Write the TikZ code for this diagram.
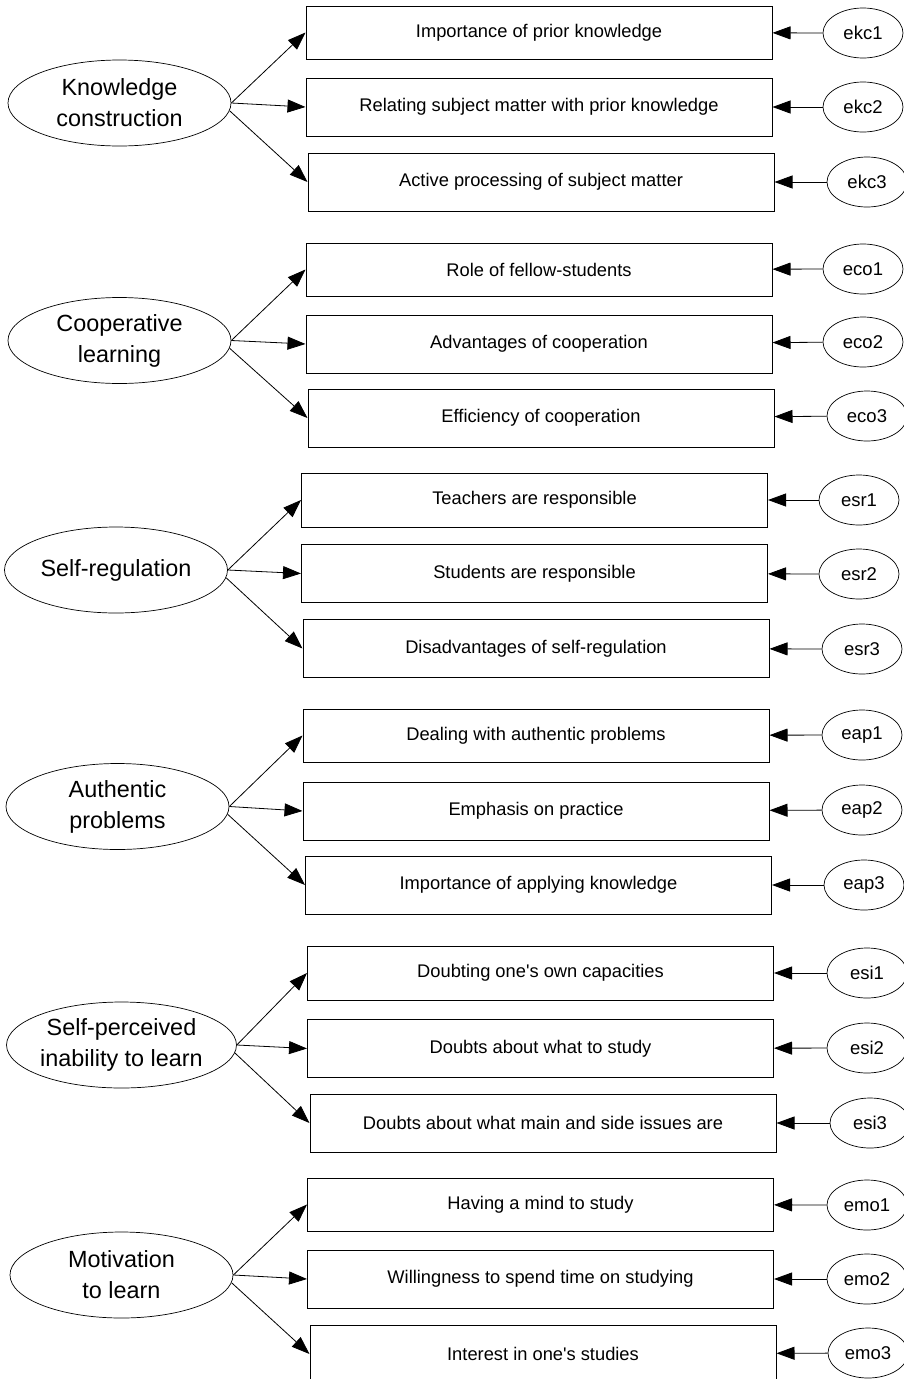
\documentclass[tikz,border=0pt]{standalone}
\usepackage{fontspec}
\setmainfont{Liberation Sans}
\usetikzlibrary{shapes.geometric,arrows.meta}

\begin{document}
\begin{tikzpicture}[x=1pt,y=-1pt,
    factor/.style ={ellipse, draw, line width=0.7pt, inner sep=0pt, minimum width=223pt, minimum height=86pt, align=center, font=\fontsize{23.4}{31}\selectfont},
    indicator/.style ={rectangle, draw, line width=1pt, inner sep=0pt, minimum width=466pt, minimum height=58pt, font=\fontsize{18.3}{22}\selectfont},
    residual/.style ={ellipse, draw, line width=0.7pt, inner sep=0pt, minimum width=80pt, minimum height=50pt, font=\fontsize{18.5}{22}\selectfont},
    load/.style ={-{Triangle[length=18pt,width=13pt]}, line width=0.8pt}]
   \useasboundingbox (0,0) rectangle (904,1379);
   % knowledge construction
   \node[factor] (kc) at (119.5,103) {Knowledge\\construction};
   \node[indicator, minimum height=53pt] (kc1) at (539,32.5) {Importance of prior knowledge};
   \node[indicator] (kc2) at (539,107) {Relating subject matter with prior knowledge};
   \node[indicator] (kc3) at (541,182) {Active processing of subject matter};
   \node[residual] (ekc1) at (863,33) {ekc1};
   \node[residual] (ekc2) at (863,107) {ekc2};
   \node[residual] (ekc3) at (867,182) {ekc3};
   \draw[load] (kc.east) to (kc1.west);
   \draw[load] (kc.east) to (kc2.west);
   \draw[load] (kc.-4) to (kc3.west);
   \draw[load] (ekc1) to (kc1);
   \draw[load] (ekc2) to (kc2);
   \draw[load] (ekc3) to (kc3);
   % cooperative learning
   \node[factor] (co) at (119.5,340.5) {Cooperative\\learning};
   \node[indicator, minimum height=53pt] (co1) at (539,269.5) {Role of fellow-students};
   \node[indicator] (co2) at (539,344) {Advantages of cooperation};
   \node[indicator] (co3) at (541,418) {Efficiency of cooperation};
   \node[residual] (eco1) at (863,269) {eco1};
   \node[residual] (eco2) at (863,342) {eco2};
   \node[residual] (eco3) at (867,416) {eco3};
   \draw[load] (co.east) to (co1.west);
   \draw[load] (co.east) to (co2.west);
   \draw[load] (co.-4) to (co3.west);
   \draw[load] (eco1) to (co1);
   \draw[load] (eco2) to (co2);
   \draw[load] (eco3) to (co3);
   % self-regulation
   \node[factor] (sr) at (116,570) {Self-regulation};
   \node[indicator, minimum height=54pt] (sr1) at (534.5,500) {Teachers are responsible};
   \node[indicator] (sr2) at (534.5,573.5) {Students are responsible};
   \node[indicator] (sr3) at (536,648.5) {Disadvantages of self-regulation};
   \node[residual] (esr1) at (859,500) {esr1};
   \node[residual] (esr2) at (859,574) {esr2};
   \node[residual] (esr3) at (862,649) {esr3};
   \draw[load] (sr.east) to (sr1.west);
   \draw[load] (sr.east) to (sr2.west);
   \draw[load] (sr.-4) to (sr3.west);
   \draw[load] (esr1) to (sr1);
   \draw[load] (esr2) to (sr2);
   \draw[load] (esr3) to (sr3);
   % authentic problems
   \node[factor] (ap) at (117.5,806.5) {Authentic\\problems};
   \node[indicator, minimum height=53pt] (ap1) at (536,735.5) {Dealing with authentic problems};
   \node[indicator] (ap2) at (536,811) {Emphasis on practice};
   \node[indicator] (ap3) at (538.5,885) {Importance of applying knowledge};
   \node[residual] (eap1) at (862,735) {eap1};
   \node[residual] (eap2) at (862,810) {eap2};
   \node[residual] (eap3) at (864,885) {eap3};
   \draw[load] (ap.east) to (ap1.west);
   \draw[load] (ap.east) to (ap2.west);
   \draw[load] (ap.-4) to (ap3.west);
   \draw[load] (eap1) to (ap1);
   \draw[load] (eap2) to (ap2);
   \draw[load] (eap3) to (ap3);
   % self-perceived inability to learn
   \node[factor] (si) at (121.5,1045) {Self-perceived\\inability to learn};
   \node[indicator, minimum height=54pt] (si1) at (540.5,973) {Doubting one\textquotesingle s own capacities};
   \node[indicator] (si2) at (540.5,1048.5) {Doubts about what to study};
   \node[indicator] (si3) at (543,1123) {Doubts about what main and side issues are};
   \node[residual] (esi1) at (867,973) {esi1};
   \node[residual] (esi2) at (867,1048) {esi2};
   \node[residual] (esi3) at (870,1123) {esi3};
   \draw[load] (si.east) to (si1.west);
   \draw[load] (si.east) to (si2.west);
   \draw[load] (si.-4) to (si3.west);
   \draw[load] (esi1) to (si1);
   \draw[load] (esi2) to (si2);
   \draw[load] (esi3) to (si3);
   % motivation to learn
   \node[factor] (mo) at (121.5,1275) {Motivation\\to learn};
   \node[indicator, minimum height=53pt] (mo1) at (540.5,1204.5) {Having a mind to study};
   \node[indicator] (mo2) at (540.5,1279) {Willingness to spend time on studying};
   \node[indicator] (mo3) at (543,1354) {Interest in one\textquotesingle s studies};
   \node[residual] (emo1) at (867,1205) {emo1};
   \node[residual] (emo2) at (867,1279) {emo2};
   \node[residual] (emo3) at (868,1353) {emo3};
   \draw[load] (mo.east) to (mo1.west);
   \draw[load] (mo.east) to (mo2.west);
   \draw[load] (mo.-4) to (mo3.west);
   \draw[load] (emo1) to (mo1);
   \draw[load] (emo2) to (mo2);
   \draw[load] (emo3) to (mo3);
 \end{tikzpicture}
\end{document}
